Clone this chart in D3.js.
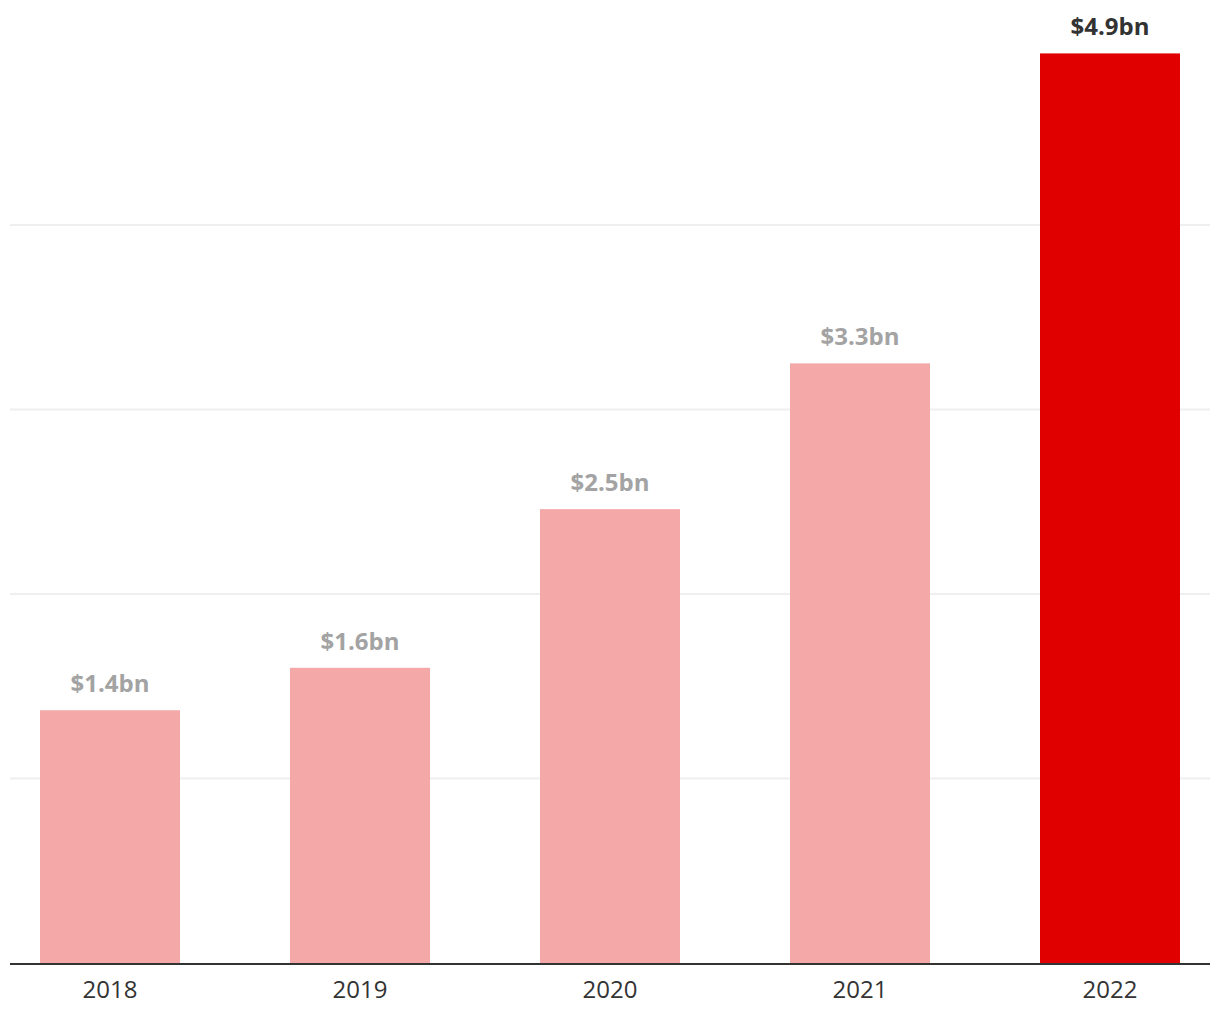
<!DOCTYPE html>
<html><head><meta charset="utf-8">
<script src="https://cdn.jsdelivr.net/npm/d3@7"></script>
<style>html,body{margin:0;padding:0;background:#fff;}svg{display:block;font-family:"Open Sans",sans-serif;}</style>
</head><body><svg id="c" width="1220" height="1020"></svg>
<script>
const categories = ["2018","2019","2020","2021","2022"];
const values = [1.37, 1.6, 2.46, 3.25, 4.93];
const valueLabels = ["$1.4bn","$1.6bn","$2.5bn","$3.3bn","$4.9bn"];
const gridTicks = [1, 2, 3, 4];

const svg = d3.select("#c");
const y = d3.scaleLinear().domain([0, 5]).range([963, 963 - 5*184.5]);
const x = d3.scaleBand().domain(categories).range([-15, 1235]).paddingInner(0.44).paddingOuter(0.22);

svg.append("g").selectAll("line").data(gridTicks).join("line")
  .attr("x1", 10).attr("x2", 1210)
  .attr("y1", d => y(d)).attr("y2", d => y(d))
  .attr("stroke", "#efefef").attr("stroke-width", 2);

svg.append("g").selectAll("rect").data(categories).join("rect")
  .attr("x", d => x(d)).attr("width", x.bandwidth())
  .attr("y", (d,i) => y(values[i])).attr("height", (d,i) => y(0) - y(values[i]))
  .attr("fill", (d,i) => i === categories.length-1 ? "#e10000" : "#f4a8a8");

svg.append("g").selectAll("text").data(categories).join("text")
  .attr("x", d => x(d) + x.bandwidth()/2)
  .attr("y", (d,i) => y(values[i]) - 18)
  .attr("text-anchor", "middle")
  .attr("font-size", 24).attr("font-weight", 700)
  .attr("fill", (d,i) => i === categories.length-1 ? "#333333" : "#a3a3a3")
  .text((d,i) => valueLabels[i]);

const axis = svg.append("g").attr("transform", `translate(0,${y(0)})`)
  .call(d3.axisBottom(x).tickSize(0).tickPadding(0));
axis.select(".domain").remove();
axis.append("line").attr("x1", 10).attr("x2", 1210).attr("y1", 1).attr("y2", 1)
  .attr("stroke", "#333").attr("stroke-width", 2);
axis.selectAll(".tick text").attr("dy", null).attr("y", 35)
  .attr("font-family", "'Open Sans', sans-serif").attr("font-size", 24).attr("fill", "#333");
</script></body></html>
